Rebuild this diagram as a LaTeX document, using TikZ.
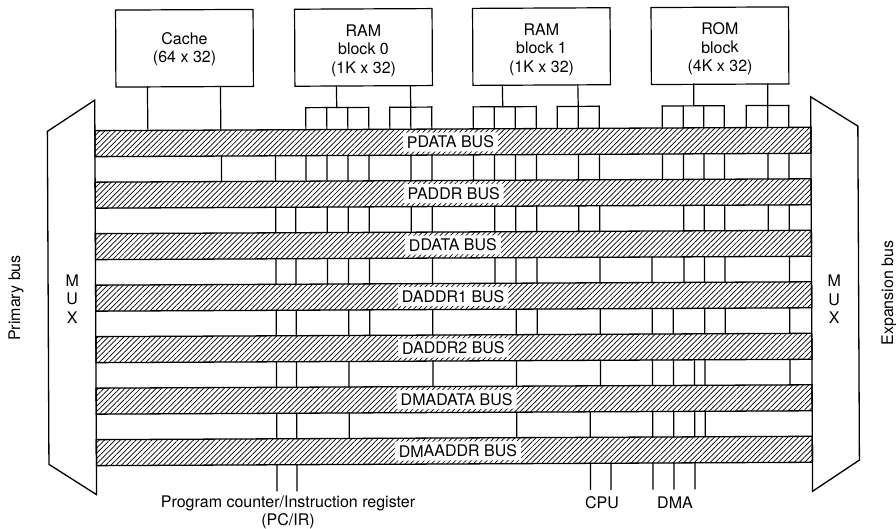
\documentclass[tikz,border=0pt]{standalone}
\usepackage{fontspec}
\setmainfont{TeX Gyre Heros}
\usetikzlibrary{calc, patterns.meta}

\begin{document}
\begin{tikzpicture}[x=1pt, y=-1pt,
  box/.style={rectangle, draw, line width=1.2pt, minimum width=137.5pt, minimum height=77pt,
    outer sep=0pt, inner sep=0pt, align=center, transform shape},
  bus/.style={rectangle, draw, line width=1.3pt, minimum width=716pt, minimum height=26pt,
    outer sep=0pt, inner sep=0pt, transform shape,
    pattern={Lines[angle=45, distance=3.7pt, line width=0.7pt]}},
  buslabel/.style={rectangle, fill=white, minimum height=19pt, inner xsep=4pt, inner ysep=0pt, transform shape},
  wire/.style={line width=1.2pt, line cap=rect},
  mux/.style={line width=1.3pt, line join=miter},
  txt/.style={font=\fontsize{16}{18.5}\selectfont, align=center, inner sep=0pt}]
  \useasboundingbox (0,0) rectangle (896,529);
  \begin{scope}[rotate around={0.27:(448,265)}]
  % memories
  \node[box, txt] (cache) at (185.5,47) {\rule{0pt}{14pt}Cache\\(64 x 32)};
  \node[box, txt] (ram0)  at (364.5,47) {\rule{0pt}{18pt}RAM\\block 0\\(1K x 32)};
  \node[box, txt] (ram1)  at (542.5,47) {\rule{0pt}{18pt}RAM\\block 1\\(1K x 32)};
  \node[box, txt] (rom)   at (721,47)   {\rule{0pt}{18pt}ROM\\block\\(4K x 32)};
  % buses
  \foreach \n/\t/\x/\y in {pdata/PDATA/451/142, paddr/PADDR/454/193.5, ddata/DDATA/453/245,
      daddra/DADDR1/453/296.5, daddrb/DADDR2/453/348, dmadata/DMADATA/456/399.5, dmaaddr/DMAADDR/457/451} {
    \node[bus] (\n) at (453.5,\y) {};
    \node[buslabel, txt, inner xsep=4pt] (\n label) at (\x,\y) {\t{} BUS};
  }
  % multiplexers
  \draw[mux] (95.5,98.5) -- (48,129.5) -- (48,462.5) -- (95.5,493) -- cycle;
  \draw[mux] (811.5,98.5) -- (858.5,128) -- (858.5,462) -- (811.5,493) -- cycle;
  \node[txt] (muxl) at (72,297) {M\\U\\X};
  \node[txt] (muxr) at (834,301) {M\\U\\X};
  % memories to PDATA bus
  \draw[wire] ($(cache.south west)!1pt*(148.5-117)!(cache.south east)$) -- ($(pdata.north west)!1pt*(148.5-95.5)!(pdata.north east)$);
  \draw[wire] ($(cache.south west)!1pt*(221.5-117)!(cache.south east)$) -- ($(pdata.north west)!1pt*(221.5-95.5)!(pdata.north east)$);
  \foreach \m/\l/\a/\b/\cols in {
      ram0/296/337.5/369.5/{306.5,327.5,348.5,369.5}, ram0/296/411.5/432.5/{390.5,411.5,432.5},
      ram1/474/503.5/537/{474,495,516,537}, ram1/474/579/600/{558,579,600},
      rom/652/694.5/725/{663,684,704.5,725}, rom/652/768.5/789.5/{747,768.5,789.5}} {
    \coordinate (top) at ($(\m.south west)!1pt*(\a-\l)!(\m.south east)$);
    \draw[wire] (top) -- (\a,107);
    \foreach \x [count=\i] in \cols {
      \draw[wire] (\x,107) -- ($(pdata.north west)!1pt*(\x-95.5)!(pdata.north east)$);
      \ifnum\i=1 \draw[wire] (\x,107) -- (\b,107); \fi
    }
  }
  % between the buses
  \foreach \up/\low/\cols in {
      pdata/paddr/{222,276,306.5,327.5,348.5,369.5,411.5,432.5,474,495,516,537,579,600,663,684,704.5,725,768.5,789.5},
      paddr/ddata/{276,296,327.5,348.5,369.5,411.5,432.5,495,516,537,579,600,684,704.5,725,768.5,789.5},
      ddata/daddra/{276,296,327.5,348.5,369.5,432.5,495,516,537,600,652,684,704.5,725,789.5},
      daddra/daddrb/{276,296,348.5,369.5,432.5,516,537,600,652,673,704.5,725,789.5},
      daddrb/dmadata/{276,296,348.5,432.5,516,600,652,673,694,704.5,789.5},
      dmadata/dmaaddr/{276,296,348.5,516,589.5,652,673,694,704.5}} {
    \foreach \x in \cols
      \draw[wire] ($(\up.south west)!1pt*(\x-95.5)!(\up.south east)$) -- ($(\low.north west)!1pt*(\x-95.5)!(\low.north east)$);
  }
  % PC/IR, CPU and DMA lines
  \foreach \x in {276,296,589.5,610,652,673,694}
    \draw[wire] ($(dmaaddr.south west)!1pt*(\x-95.5)!(dmaaddr.south east)$) -- (\x,490);
  \end{scope}
  % outside labels
  \node[txt] (pcir) at (288,512.5) {Program counter/Instruction register\\(PC/IR)};
  \node[txt] (cpu) at (602,503) {CPU};
  \node[txt] (dma) at (675,502.5) {DMA};
  \node[txt, rotate=90] (primary) at (16,298) {Primary bus};
  \node[txt, rotate=90] (expansion) at (889,293) {Expansion bus};
\end{tikzpicture}
\end{document}
